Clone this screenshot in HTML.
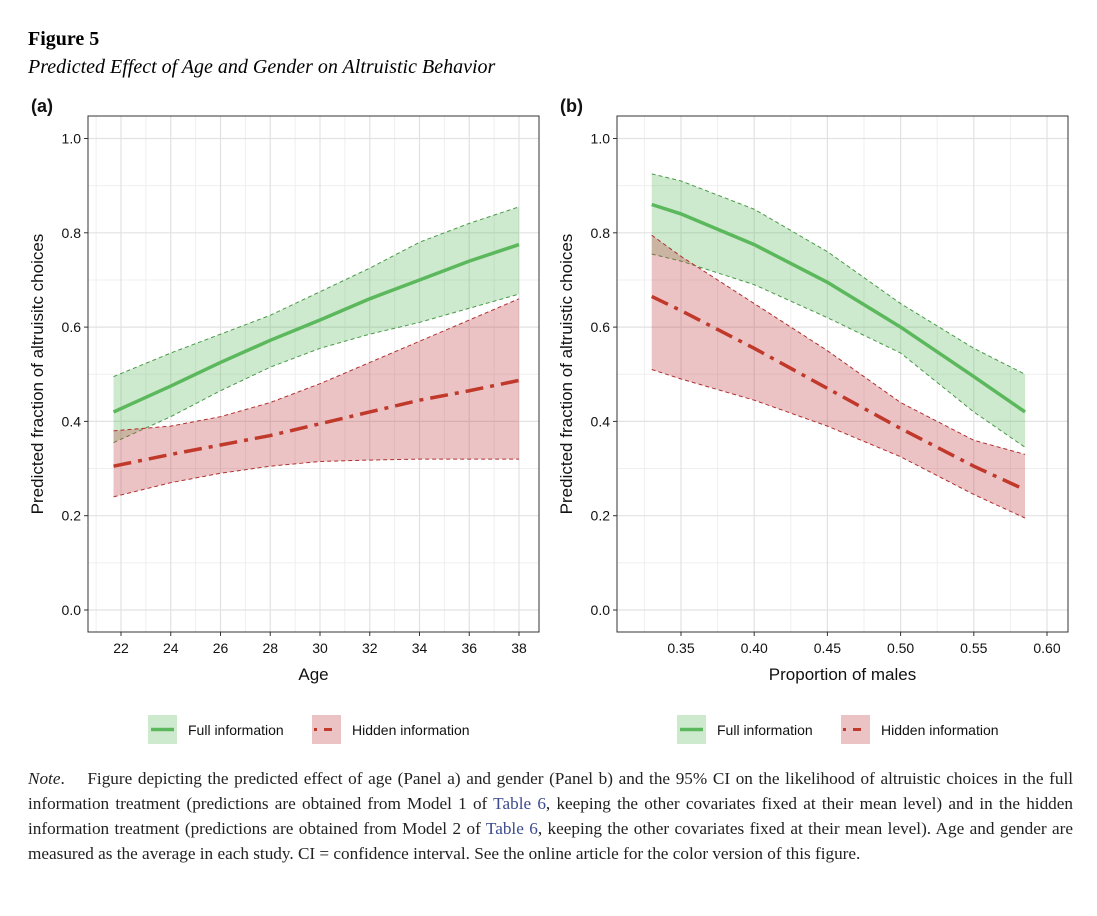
<!DOCTYPE html>
<html><head><meta charset="utf-8">
<style>
body{margin:0;background:#fff;width:1097px;height:916px;overflow:hidden;position:relative;font-family:"Liberation Serif",serif;}
.t{position:absolute;white-space:nowrap;}
svg{position:absolute;left:0;top:0;}
.note{position:absolute;left:28px;top:766px;width:1045px;font-size:17.2px;line-height:25px;color:#222;text-align:justify;}
.note a{color:#3b4a8f;text-decoration:none;}
</style></head><body>
<div class="t" style="left:28px;top:28px;font-size:20px;font-weight:bold;">Figure 5</div>
<div class="t" style="left:28px;top:56px;font-size:20px;font-style:italic;">Predicted Effect of Age and Gender on Altruistic Behavior</div>
<svg id="chart" width="1097" height="760"></svg>
<div class="note"><i>Note</i>.&nbsp;&nbsp;&nbsp; Figure depicting the predicted effect of age (Panel a) and gender (Panel b) and the 95% CI on the likelihood of altruistic choices in the full information treatment (predictions are obtained from Model 1 of <a>Table 6</a>, keeping the other covariates fixed at their mean level) and in the hidden information treatment (predictions are obtained from Model 2 of <a>Table 6</a>, keeping the other covariates fixed at their mean level). Age and gender are measured as the average in each study. CI = confidence interval. See the online article for the color version of this figure.</div>
<script>
// Panel a data
const ageX = [21.7, 24, 26, 28, 30, 32, 34, 36, 38];
const ageFullFit = [0.42, 0.475, 0.525, 0.572, 0.615, 0.66, 0.70, 0.74, 0.775];
const ageFullUp = [0.495, 0.545, 0.585, 0.625, 0.675, 0.725, 0.78, 0.82, 0.855];
const ageFullLo = [0.355, 0.41, 0.465, 0.515, 0.555, 0.585, 0.61, 0.64, 0.67];
const ageHidX = [21.7, 24, 26, 28, 30, 32, 34, 36, 38];
const ageHidFit = [0.305, 0.33, 0.35, 0.37, 0.395, 0.42, 0.445, 0.465, 0.487];
const ageHidUp = [0.38, 0.39, 0.41, 0.44, 0.48, 0.525, 0.57, 0.615, 0.66];
const ageHidLo = [0.24, 0.27, 0.29, 0.305, 0.315, 0.318, 0.32, 0.32, 0.32];
const ageTicks = [22, 24, 26, 28, 30, 32, 34, 36, 38];
// Panel b data
const maleX = [0.33, 0.35, 0.40, 0.45, 0.50, 0.55, 0.585];
const maleFullFit = [0.86, 0.84, 0.775, 0.695, 0.60, 0.495, 0.42];
const maleFullUp = [0.925, 0.91, 0.85, 0.76, 0.65, 0.555, 0.50];
const maleFullLo = [0.755, 0.74, 0.69, 0.62, 0.545, 0.42, 0.345];
const maleHidFit = [0.665, 0.635, 0.555, 0.47, 0.385, 0.305, 0.255];
const maleHidUp = [0.795, 0.75, 0.65, 0.55, 0.44, 0.36, 0.33];
const maleHidLo = [0.51, 0.49, 0.445, 0.39, 0.325, 0.245, 0.195];
const maleTicks = [0.35, 0.40, 0.45, 0.50, 0.55, 0.60];
const yTicks = [0.0, 0.2, 0.4, 0.6, 0.8, 1.0];

const svg = document.getElementById('chart');
const NS = 'http://www.w3.org/2000/svg';
function mk(tag, attrs, parent){const e=document.createElementNS(NS,tag);for(const k in attrs)e.setAttribute(k,attrs[k]);(parent||svg).appendChild(e);return e;}
function txt(x,y,s,size,anchor,parent){const e=mk('text',{x:x,y:y,'font-size':size,'text-anchor':anchor||'middle','font-family':'Liberation Sans, sans-serif',fill:'#111'},parent);e.textContent=s;return e;}

function panel(cfg){
  const g=mk('g',{});
  
  
  const L=cfg.left,R=cfg.right,T=116,B=632;
  const yS=v=>610-v*471.5;
  const xS=v=>cfg.x0px+(v-cfg.x0)*cfg.k;
  for(let v=0.1;v<1.05;v+=0.2) mk('line',{x1:L,x2:R,y1:yS(v),y2:yS(v),stroke:'#efefef','stroke-width':1},g);
  cfg.minor.forEach(v=>mk('line',{x1:xS(v),x2:xS(v),y1:T,y2:B,stroke:'#efefef','stroke-width':1},g));
  yTicks.forEach(v=>{mk('line',{x1:L,x2:R,y1:yS(v),y2:yS(v),stroke:'#e2e2e2','stroke-width':1.2},g);
    mk('line',{x1:L-4,x2:L,y1:yS(v),y2:yS(v),stroke:'#333'},g);
    txt(L-7,yS(v)+5,v.toFixed(1),14,'end',g);});
  cfg.ticks.forEach(v=>{mk('line',{x1:xS(v),x2:xS(v),y1:T,y2:B,stroke:'#e2e2e2','stroke-width':1.2},g);
    mk('line',{x1:xS(v),x2:xS(v),y1:B,y2:B+4,stroke:'#333'},g);
    txt(xS(v),B+21,cfg.fmt(v),14,'middle',g);});
  function band(xs,up,lo,fill,stroke,name){
    let d='M'+xs.map((x,i)=>xS(x)+','+yS(up[i])).join('L')+'L'+xs.map((x,i)=>[x,i]).reverse().map(([x,i])=>xS(x)+','+yS(lo[i])).join('L')+'Z';
    const p=mk('path',{d:d,fill:fill,'fill-opacity':0.3},g);
    
    
    [up,lo].forEach(a=>mk('polyline',{points:xs.map((x,i)=>xS(x)+','+yS(a[i])).join(' '),fill:'none',stroke:stroke,'stroke-width':1,'stroke-dasharray':'4 3'},g));
  }
  band(cfg.fx,cfg.fu,cfg.fl,'#5cb85c','#4a9a4a',cfg.name+'-full-ci');
  band(cfg.hx,cfg.hu,cfg.hl,'#c0393b','#b03030',cfg.name+'-hidden-ci');
  const f=mk('polyline',{points:cfg.fx.map((x,i)=>xS(x)+','+yS(cfg.ff[i])).join(' '),fill:'none',stroke:'#5cb85c','stroke-width':3.5},g);
  
  
  const h=mk('polyline',{points:cfg.hx.map((x,i)=>xS(x)+','+yS(cfg.hf[i])).join(' '),fill:'none',stroke:'#c0392b','stroke-width':3.5,'stroke-dasharray':'18 7 4 7'},g);
  
  
  mk('rect',{x:L,y:T,width:R-L,height:B-T,fill:'none',stroke:'#333','stroke-width':1},g);
  txt((L+R)/2,B+48,cfg.xlabel,17,'middle',g);
  const yl=txt(0,0,'Predicted fraction of altruisitc choices'.replace('altruisitc',cfg.ylab),17,'middle',g);
  yl.setAttribute('transform','translate('+(cfg.left-45)+',374) rotate(-90)');
  const lab=txt(cfg.left-57,112,cfg.label,18,'start',g);lab.setAttribute('font-weight','bold');
  const lx=cfg.legX;
  mk('rect',{x:lx,y:715,width:29,height:29,fill:'#5cb85c','fill-opacity':0.3},g);
  mk('line',{x1:lx+3,x2:lx+26,y1:729.5,y2:729.5,stroke:'#5cb85c','stroke-width':3.5},g);
  txt(lx+40,735,'Full information',14,'start',g);
  mk('rect',{x:lx+164,y:715,width:29,height:29,fill:'#c0393b','fill-opacity':0.3},g);
  mk('line',{x1:lx+166,x2:lx+191,y1:729.5,y2:729.5,stroke:'#c0392b','stroke-width':3,'stroke-dasharray':'3 7 8 7'},g);
  txt(lx+204,735,'Hidden information',14,'start',g);
}
panel({name:'panel-a',left:88,right:539,x0:22,x0px:121,k:398/16,ticks:ageTicks,minor:[21,23,25,27,29,31,33,35,37],fmt:v=>String(v),
  fx:ageX,ff:ageFullFit,fu:ageFullUp,fl:ageFullLo,hx:ageHidX,hf:ageHidFit,hu:ageHidUp,hl:ageHidLo,
  xlabel:'Age',ylab:'altruisitc',label:'(a)',legX:148});
panel({name:'panel-b',left:617,right:1068,x0:0.35,x0px:681,k:366/0.25,ticks:maleTicks,minor:[0.325,0.375,0.425,0.475,0.525,0.575],fmt:v=>v.toFixed(2),
  fx:maleX,ff:maleFullFit,fu:maleFullUp,fl:maleFullLo,hx:maleX,hf:maleHidFit,hu:maleHidUp,hl:maleHidLo,
  xlabel:'Proportion of males',ylab:'altruistic',label:'(b)',legX:677});
</script>
</body></html>
